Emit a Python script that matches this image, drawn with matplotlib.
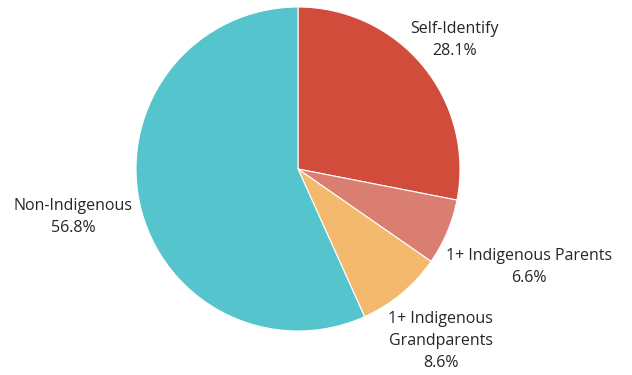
import numpy as np
import matplotlib.pyplot as plt

labels = ['Self-Identify', '1+ Indigenous Parents', '1+ Indigenous\nGrandparents', 'Non-Indigenous']
shares = [28.1, 6.6, 8.6, 56.8]
colors = ['#D24C3B', '#D97E70', '#F3B96C', '#56C4CD']

# label distance from centre, as a multiple of the radius
label_dist = [1.25, 1.55, 1.38, 1.42]

plt.rcParams['font.family'] = ['Open Sans', 'DejaVu Sans']

fig = plt.figure(figsize=(6.32, 3.75), dpi=100)
ax = fig.add_axes([0, 0, 1, 1])

cx, cy, r = 298, 206, 162
wedges, _ = ax.pie(shares, colors=colors, startangle=90, counterclock=False,
                   radius=r, center=(cx, cy), frame=True,
                   wedgeprops=dict(linewidth=0.8, edgecolor='white'))
ax.set_xlim(0, 632)
ax.set_ylim(0, 375)
ax.set_aspect('equal')
ax.axis('off')

for w, lab, val, d in zip(wedges, labels, shares, label_dist):
    ang = np.deg2rad((w.theta1 + w.theta2) / 2)
    x = cx + d * r * np.cos(ang)
    y = cy + d * r * np.sin(ang)
    ax.text(x, y, f'{lab}\n{val}%', ha='center', va='center',
            fontsize=11.5, color='#262626', linespacing=1.5)

fig.savefig('out.png', dpi=100)
